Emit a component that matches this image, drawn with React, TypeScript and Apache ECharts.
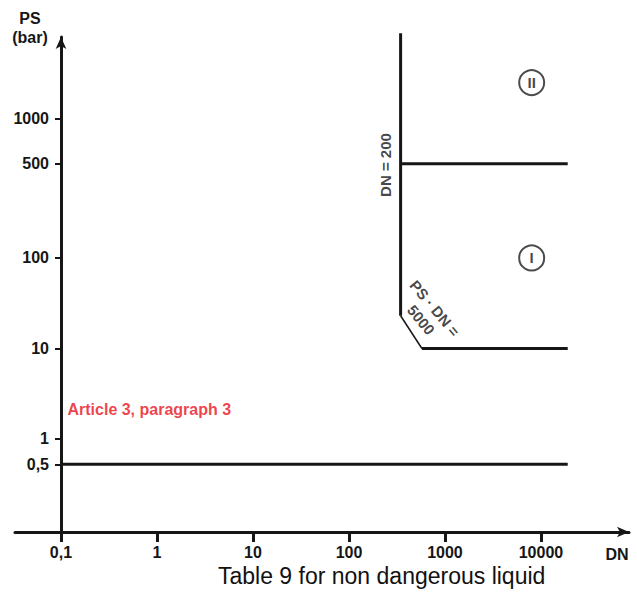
import React, { useEffect, useRef } from "react";
import * as echarts from "echarts";

// ---- axis ticks ----
const xTickValues = [0.1, 1, 10, 100, 1000, 10000];
const xTickLabels = ["0,1", "1", "10", "100", "1000", "10000"];
const yTickValues = [0.5, 1, 10, 100, 500, 1000];
const yTickLabels = ["0,5", "1", "10", "100", "500", "1000"];
// the drawing's PS axis is schematic: slot (step) at which each tick is drawn
const yTickSlots = [-0.28, 0, 1, 2, 3.04, 3.54];

// ---- boundary lines [DN, PS] ----
const ps05Line = [[0.1, 0.5], [19000, 0.5]];
const ps10Line = [[575, 10], [19000, 10]];
const ps500Line = [[345, 500], [19000, 500]];
const dn200Line = [[345, 23], [345, 8800]];
const psDnLine = [[345, 23], [575, 10]];

// ---- annotations [DN, PS] ----
const categoryMarks = [
  { name: "II", value: [8000, 2500] },
  { name: "I", value: [8000, 100] },
];
const textNotes = [
  { name: "DN = 200", value: [243, 490] },
  { name: "PS · DN =\n5000", value: [665, 24] },
];
const articleNote = { name: "Article 3, paragraph 3", value: [0.1, 2.1] };

const FONT = "'Liberation Sans', Arial, sans-serif";
const INK = "#161616";

function xPos(dn: number) {
  return Math.log10(dn) + 1;
}
function yPos(ps: number) {
  const l = Math.log10(ps);
  const lt = yTickValues.map((v) => Math.log10(v));
  const n = lt.length;
  if (l <= lt[0]) {
    const k = (yTickSlots[1] - yTickSlots[0]) / (lt[1] - lt[0]);
    return yTickSlots[0] + (l - lt[0]) * k;
  }
  if (l >= lt[n - 1]) {
    return yTickSlots[n - 1] + (l - lt[n - 1]);
  }
  for (let i = 0; i < n - 1; i++) {
    if (l >= lt[i] && l <= lt[i + 1]) {
      const f = (l - lt[i]) / (lt[i + 1] - lt[i]);
      return yTickSlots[i] + f * (yTickSlots[i + 1] - yTickSlots[i]);
    }
  }
  return 0;
}
const pt = (p: number[]) => [xPos(p[0]), yPos(p[1])];

const xSlots = xTickValues.map(xPos);
function lookup(slots: number[], labels: string[], v: number) {
  for (let i = 0; i < slots.length; i++) {
    if (Math.abs(slots[i] - v) < 1e-6) return labels[i];
  }
  return "";
}

function lineSeries(data: number[][], label: string | null, dist: number, width: number, dx = 0) {
  const pts: any[] = data.map((p) => pt(p));
  if (label) {
    const last = pts.length - 1;
    pts[last] = {
      value: pts[last],
      label: {
        show: true,
        formatter: label,
        position: "top",
        align: "right",
        distance: dist,
        offset: [dx, 0],
        fontFamily: FONT,
        fontWeight: "bold",
        fontSize: 16,
        color: INK,
      },
    };
  }
  return {
    type: "line",
    data: pts,
    symbol: "none",
    showSymbol: false,
    clip: false,
    lineStyle: { color: INK, width },
    label: { show: false },
    silent: true,
  };
}

export default function App() {
  const ref = useRef<HTMLDivElement>(null);
  useEffect(() => {
    if (!ref.current) return;
    const chart = echarts.init(ref.current, undefined, { renderer: "svg" });
    const labelStyle = { fontFamily: FONT, fontWeight: "bold" as const, fontSize: 16, color: INK };
    chart.setOption({
      animation: false,
      backgroundColor: "#ffffff",
      title: {
        text: "Table 9 for non dangerous liquid",
        left: 213,
        top: 559,
        textStyle: { fontFamily: FONT, fontWeight: "normal", fontSize: 23, color: "#111" },
      },
      grid: { left: 15, right: 8, top: 37, bottom: 64, containLabel: false, outerBoundsMode: "none" },
      xAxis: {
        type: "value",
        min: -0.479,
        max: 5.917,
        name: "DN",
        nameLocation: "end",
        nameGap: -12,
        nameTextStyle: { ...labelStyle, align: "center", verticalAlign: "top", padding: [14, 0, 0, 0] },
        axisLine: {
          onZero: false,
          lineStyle: { color: INK, width: 3 },
          symbol: ["none", "arrow"],
          symbolSize: [8, 12],
        },
        axisTick: { show: true, length: 10, lineStyle: { color: INK, width: 3 }, customValues: xSlots },
        axisLabel: {
          ...labelStyle,
          margin: 12,
          customValues: xSlots,
          formatter: (v: number) => lookup(xSlots, xTickLabels, v),
        },
        splitLine: { show: false },
      },
      yAxis: {
        type: "value",
        min: -1.028,
        max: 4.442,
        position: "left",
        offset: -46,
        name: "PS\n(bar)",
        nameLocation: "end",
        nameGap: -10,
        nameTextStyle: { ...labelStyle, align: "center", lineHeight: 19, padding: [0, 62, 0, 0] },
        axisLine: {
          onZero: false,
          lineStyle: { color: INK, width: 3 },
          symbol: ["none", "arrow"],
          symbolSize: [8, 12],
        },
        axisTick: { show: true, length: 6, lineStyle: { color: INK, width: 2 }, customValues: yTickSlots },
        axisLabel: {
          ...labelStyle,
          margin: 12,
          customValues: yTickSlots,
          formatter: (v: number) => lookup(yTickSlots, yTickLabels, v),
        },
        splitLine: { show: false },
      },
      series: [
        lineSeries(ps05Line, "PS = 0,5", 5, 3, 5),
        lineSeries(ps10Line, "PS = 10", 6, 3),
        lineSeries(ps500Line, "PS = 500", 2, 3),
        lineSeries(dn200Line, null, 0, 3),
        lineSeries(psDnLine, null, 0, 1.5),
        {
          type: "scatter",
          symbol: "circle",
          symbolSize: 25,
          silent: true,
          itemStyle: { color: "#ffffff", borderColor: "#1e1e1e", borderWidth: 2 },
          label: {
            show: true,
            position: "inside",
            formatter: "{b}",
            fontFamily: FONT,
            fontWeight: "bold",
            fontSize: 15,
            color: INK,
          },
          data: categoryMarks.map((d) => ({ name: d.name, value: pt(d.value) })),
        },
        {
          type: "scatter",
          symbol: "circle",
          symbolSize: 1,
          silent: true,
          itemStyle: { color: "transparent" },
          data: [
            {
              name: textNotes[0].name,
              value: pt(textNotes[0].value),
              label: { show: true, position: "inside", rotate: 90, formatter: "{b}", ...labelStyle, fontSize: 15 },
            },
            {
              name: textNotes[1].name,
              value: pt(textNotes[1].value),
              label: {
                show: true,
                position: "inside",
                rotate: -50,
                align: "center",
                lineHeight: 18,
                formatter: "{b}",
                ...labelStyle,
                fontSize: 15,
              },
            },
            {
              name: articleNote.name,
              value: pt(articleNote.value),
              label: {
                show: true,
                position: "right",
                distance: 6,
                formatter: "{b}",
                ...labelStyle,
                color: "#e8101c",
              },
            },
          ],
        },
      ],
    });
    return () => chart.dispose();
  }, []);
  return <div ref={ref} style={{ position: "absolute", left: 0, top: 0, width: 637, height: 596 }} />;
}
